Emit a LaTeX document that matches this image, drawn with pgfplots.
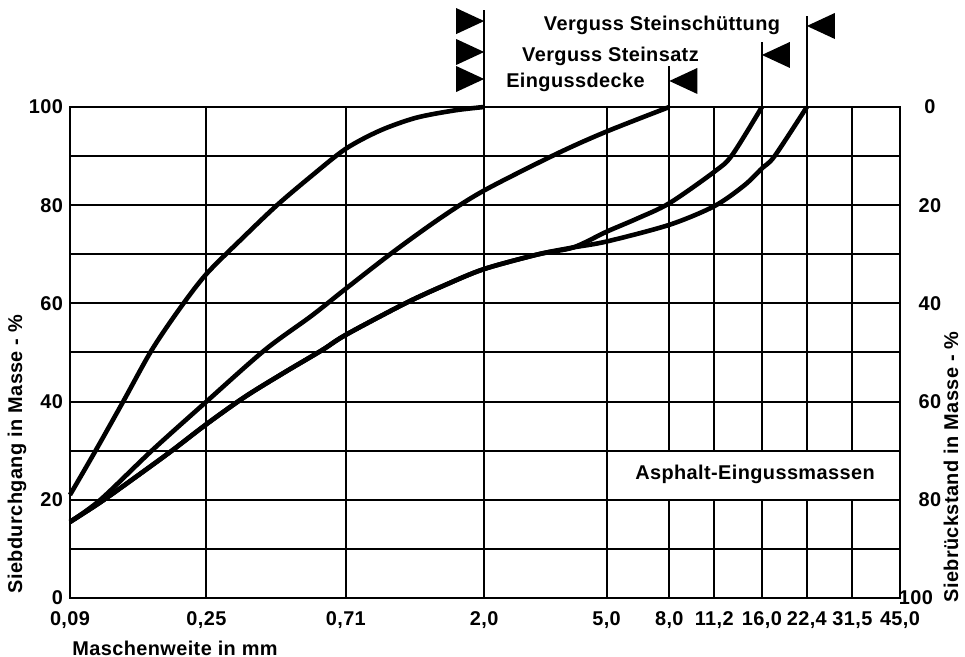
\documentclass[border=0pt]{standalone}
\usepackage{fontspec}
\setmainfont{Liberation Sans}[LetterSpace=2]
\usepackage{pgfplots}
\pgfplotsset{compat=1.18}

\begin{document}
\begin{tikzpicture}[font=\bfseries\fontsize{10}{12}\selectfont]
\useasboundingbox (-35bp,-29.5bp) rectangle (447.5bp,299bp);
\begin{axis}[
  at={(0,0)}, anchor=south west, scale only axis,
  width=415bp, height=245.5bp,
  xmode=log, xmin=0.09, xmax=45, ymin=0, ymax=100,
  xtick={0.09,0.25,0.71,2,5,8,11.2,16,22.4,31.5,45},
  xticklabels={{0,09},{0,25},{0,71},{2,0},{5,0},{8,0},{11,2},{\raisebox{4.5bp}{16,0}},{22,4},{\raisebox{4.5bp}{31,5}},{45,0}},
  minor xtick={},
  ytick={0,10,...,100},
  yticklabels={0,{},20,{},40,{},60,{},80,{},100},
  grid=major,
  major grid style={black, line width=1bp},
  axis line style={black, line width=1.3bp},
  major tick length=0pt,
  tick label style={font=\bfseries\fontsize{10}{12}\selectfont},
  xticklabel style={yshift=-3.5bp},
  clip=false,
]
% Eingussdecke
\addplot[black, line width=2.3bp, smooth] coordinates {(0.09,21) (0.109,30) (0.134,40) (0.166,50.5) (0.205,59) (0.25,66) (0.33,73.5) (0.424,80) (0.55,86) (0.71,91.5) (0.917,95.2) (1.2,97.8) (1.6,99.3) (2.0,100)};
% Verguss Steinsatz
\addplot[black, line width=2.3bp, smooth] coordinates {(0.09,15.5) (0.113,20) (0.166,30) (0.25,40) (0.387,50.5) (0.55,57.5) (0.71,63) (1.013,70.5) (1.45,77.5) (2.0,83) (3.45,90.5) (5.0,95) (8.0,100)};
% lower curves: common part, then split to 16,0 and 22,4
\addplot[black, line width=2.3bp, smooth] coordinates {(0.09,15.5) (0.113,19.5) (0.15,25) (0.193,30) (0.25,35.4) (0.334,41) (0.45,46) (0.595,50.5) (0.71,53.6) (1.107,60) (1.5,63.8) (2.0,67) (3.0,70) (3.9,71.4) (5.0,74.6) (6.3,77.3) (8.0,80.4) (11.2,86.8) (12.8,90.2) (16.0,100)};
\addplot[black, line width=2.3bp, smooth] coordinates {(0.09,15.5) (0.113,19.5) (0.15,25) (0.193,30) (0.25,35.4) (0.334,41) (0.45,46) (0.595,50.5) (0.71,53.6) (1.107,60) (1.5,63.8) (2.0,67) (3.0,70) (3.9,71.4) (5.0,72.6) (8.0,76) (11.2,79.8) (14,84) (16.0,87.5) (17.6,90) (22.4,100)};

% flag poles above the plot
\draw[line width=1bp] (axis cs:2,100) -- (axis cs:2,119.8);
\draw[line width=1bp] (axis cs:8,100) -- (axis cs:8,108.4);
\draw[line width=1bp] (axis cs:16,100) -- (axis cs:16,113.2);
\draw[line width=1bp] (axis cs:22.4,100) -- (axis cs:22.4,118.6);
\coordinate (fa) at (axis cs:2,117.5);
\coordinate (fb) at (axis cs:2,111.2);
\coordinate (fc) at (axis cs:2,105.7);
\coordinate (fd) at (axis cs:8,105.3);
\coordinate (fe) at (axis cs:16,110.6);
\coordinate (ff) at (axis cs:22.4,116.5);
\end{axis}

\begin{axis}[
  at={(0,0)}, anchor=south west, scale only axis,
  width=415bp, height=245.5bp,
  xmin=0, xmax=1, ymin=0, ymax=100, y dir=reverse,
  axis x line=none, axis y line*=right,
  ytick={0,20,...,100},
  yticklabels={0,20,40,60,80,\hspace*{-14bp}100},
  axis line style={black, line width=1.3bp},
  major tick length=0pt,
  tick label style={font=\bfseries\fontsize{10}{12}\selectfont},
  yticklabel style={anchor=center, xshift=15bp},
]
\end{axis}

\foreach \p in {fa,fb,fc}
  \fill (\p) -- ++(-14bp,6.5bp) -- ++(0,-13bp) -- cycle;
\foreach \p in {fd,fe,ff}
  \fill (\p) -- ++(14bp,6.5bp) -- ++(0,-13bp) -- cycle;

\fill[white] (277.5bp,49.7bp) rectangle (414.2bp,73.1bp);
\node[anchor=base, inner sep=0pt] at (342.5bp,59bp) {Asphalt-Eingussmassen};

\node[anchor=base, inner sep=0pt] at (296bp,283.5bp) {Verguss Steinschüttung};
\node[anchor=base, inner sep=0pt] at (270.25bp,268bp) {Verguss Steinsatz};
\node[anchor=base, inner sep=0pt] at (252.75bp,255bp) {Eingussdecke};

\node[anchor=base west, inner sep=0pt] at (1bp,-28.5bp) {Maschenweite in mm};
\node[rotate=90, inner sep=0pt] at (-26.5bp,72bp) {Siebdurchgang in Masse - \%};
\node[rotate=90, inner sep=0pt] at (440.5bp,65.5bp) {Siebrückstand in Masse - \%};
\end{tikzpicture}
\end{document}
